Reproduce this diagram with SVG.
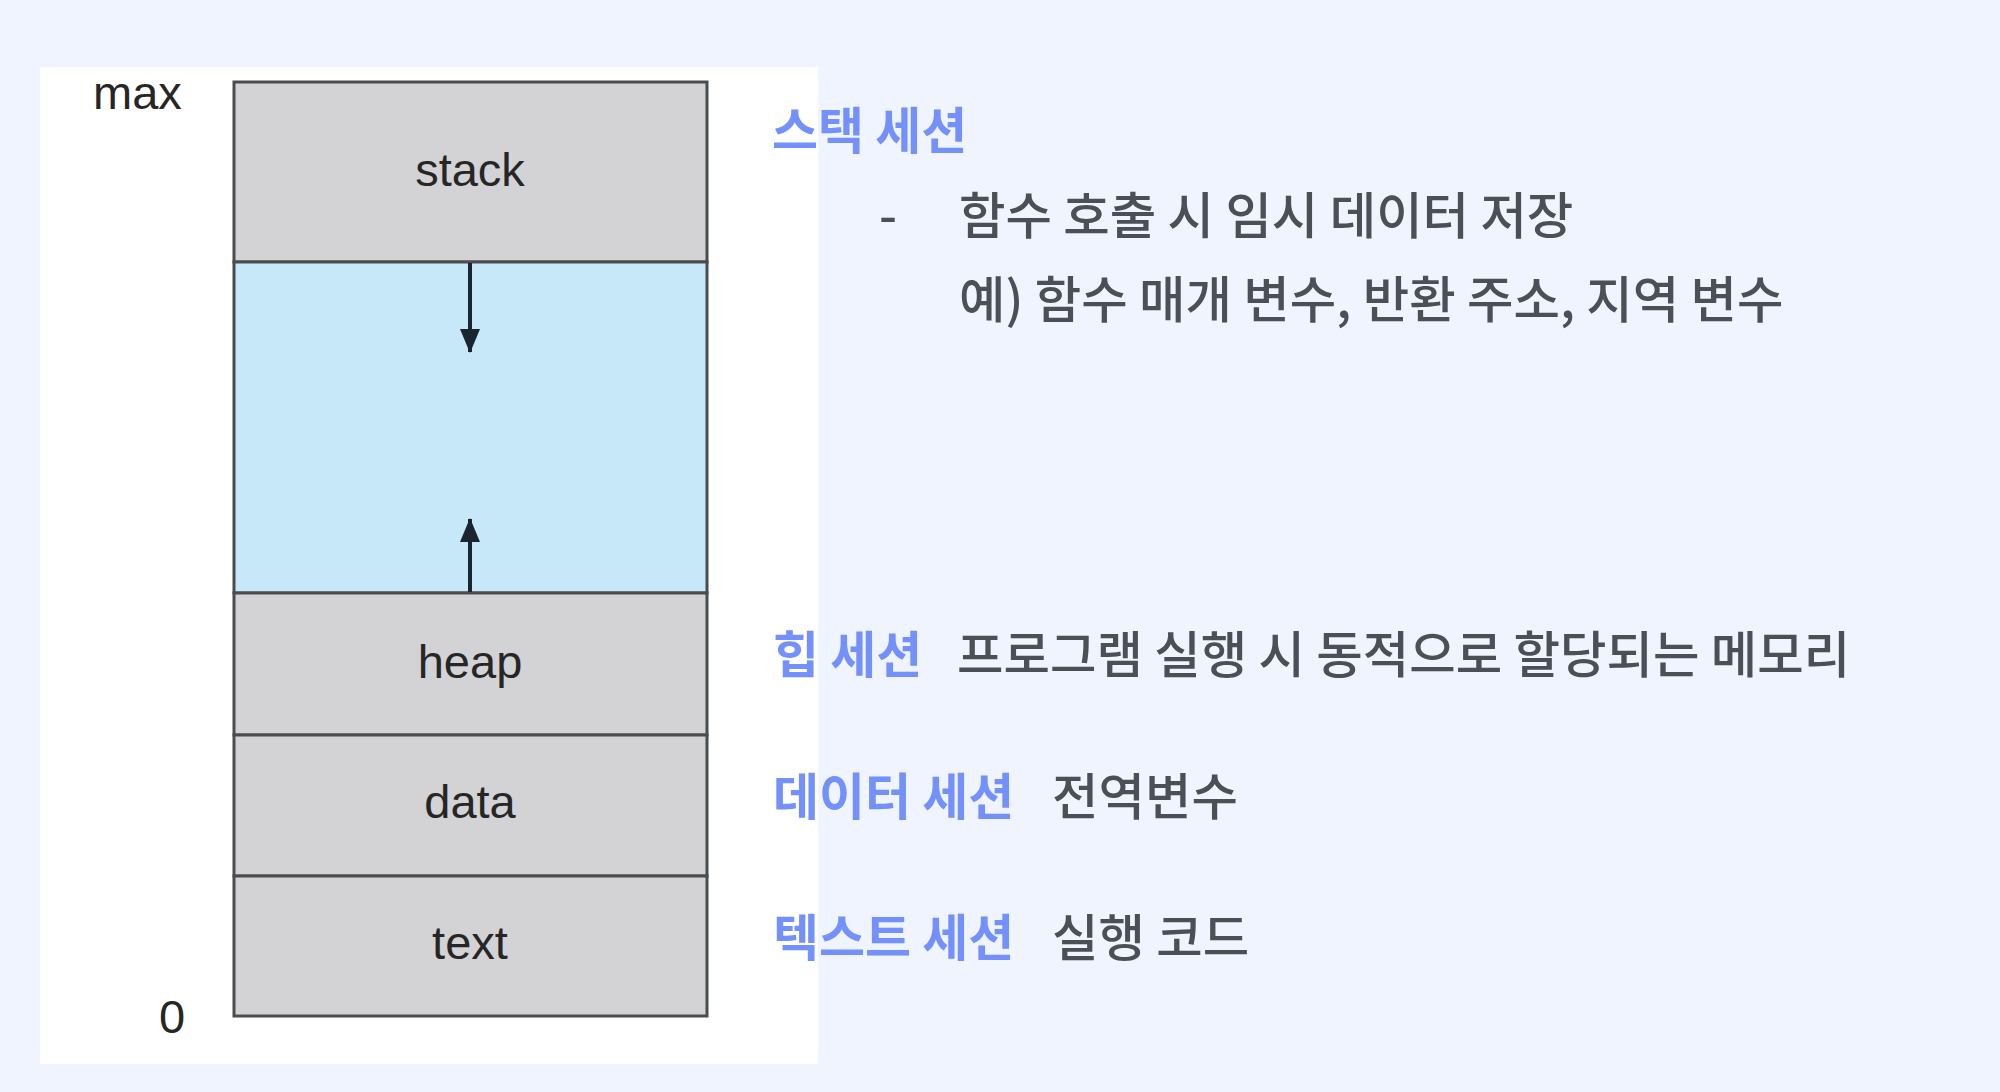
<svg xmlns="http://www.w3.org/2000/svg" width="2000" height="1092" viewBox="0 0 2000 1092">
<defs>
<style>
.seg{stroke:#4a4d50;stroke-width:3;}
.gray{fill:#d3d3d5;}
.free{fill:#c6e8f8;}
.lbl{font-family:"Liberation Sans",Arial,sans-serif;font-size:47px;fill:#262626;text-anchor:middle;}
.axis{font-family:"Liberation Sans",Arial,sans-serif;font-size:47px;fill:#262626;}
.title{font-family:"Noto Sans CJK KR","Noto Sans",sans-serif;font-size:50px;font-weight:700;fill:#7490fb;}
.desc{font-family:"Noto Sans CJK KR","Noto Sans",sans-serif;font-size:50.5px;font-weight:500;fill:#4b4f56;}
.arrow{stroke:#1a2530;stroke-width:4;fill:none;}
</style>
<marker id="ah" viewBox="0 0 24 20" refX="23" refY="10" markerWidth="24" markerHeight="20" markerUnits="userSpaceOnUse" orient="auto">
<path d="M0,0 L24,10 L0,20 z" fill="#1a2530"/>
</marker>
</defs>
<rect x="0" y="0" width="2000" height="1092" fill="#eff4fe"/>
<rect x="40" y="67" width="778" height="997" fill="#ffffff"/>
<g id="axis-labels">
<text class="axis" x="93" y="109">max</text>
<text class="axis" x="159" y="1033">0</text>
</g>
<g id="stack">
<rect class="gray seg" x="234" y="82" width="473" height="180"/>
<text class="lbl" x="470" y="186">stack</text>
</g>
<g id="free">
<rect class="free seg" x="234" y="262" width="473" height="331"/>
</g>
<g id="heap">
<rect class="gray seg" x="234" y="593" width="473" height="142"/>
<text class="lbl" x="470" y="678">heap</text>
</g>
<g id="data">
<rect class="gray seg" x="234" y="735" width="473" height="141"/>
<text class="lbl" x="470" y="818">data</text>
</g>
<g id="text">
<rect class="gray seg" x="234" y="876" width="473" height="140"/>
<text class="lbl" x="470" y="959">text</text>
</g>
<g id="connectors">
<line class="arrow" x1="470" y1="263" x2="470" y2="352" marker-end="url(#ah)"/>
<line class="arrow" x1="470" y1="592" x2="470" y2="519" marker-end="url(#ah)"/>
</g>
<g id="stack-desc">
<text class="title" x="772" y="149">스택 세션</text>
<text class="desc" x="879" y="234">-</text>
<text class="desc" x="959" y="234">함수 호출 시 임시 데이터 저장</text>
<text class="desc" x="959" y="318">예) 함수 매개 변수, 반환 주소, 지역 변수</text>
</g>
<g id="heap-desc">
<text class="title" x="773" y="673">힙 세션</text>
<text class="desc" x="957" y="673">프로그램 실행 시 동적으로 할당되는 메모리</text>
</g>
<g id="data-desc">
<text class="title" x="773" y="815">데이터 세션</text>
<text class="desc" x="1052" y="815">전역변수</text>
</g>
<g id="text-desc">
<text class="title" x="773" y="956">텍스트 세션</text>
<text class="desc" x="1052" y="956">실행 코드</text>
</g>
</svg>
